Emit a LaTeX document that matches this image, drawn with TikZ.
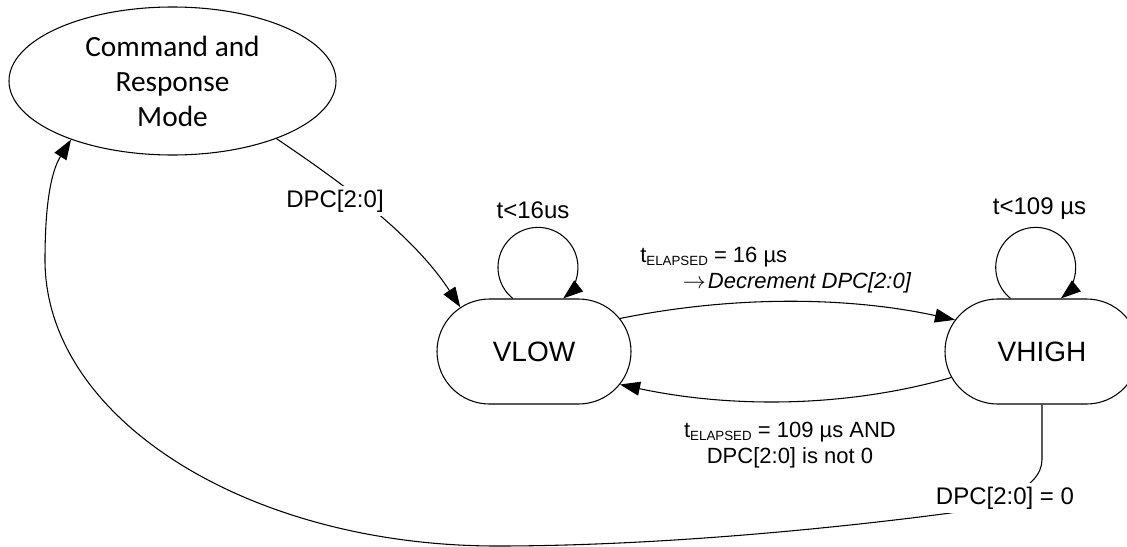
\documentclass[tikz,border=0pt]{standalone}
\usepackage{fontspec}
\setmainfont{Liberation Sans}
\newfontfamily\calibrifont{Carlito}
\usepackage{tikz}
\usetikzlibrary{arrows.meta,shapes.geometric,shapes.misc}
\tikzset{
    modeellipse/.style={draw=black, line width=0.8pt, ellipse, minimum width=245.25pt,
        minimum height=111pt, inner sep=0pt, align=center,
        font=\calibrifont\fontsize{22}{26.25}\selectfont},
    statebox/.style={draw=black, line width=0.8pt, rounded rectangle, minimum width=145.5pt,
        minimum height=78.75pt, inner sep=0pt, font=\fontsize{21}{25}\selectfont},
    transition/.style={draw=black, line width=0.8pt, -{Triangle[length=15pt,width=10.5pt]}},
    condlabel/.style={fill=white, inner sep=2.5pt, font=\fontsize{18}{21}\selectfont},
    actionlabel/.style={inner sep=0pt, font=\fontsize{16.5}{19.5}\selectfont},
}
\newcommand{\telapsed}{t\raisebox{-2pt}{\fontsize{10}{12}\selectfont ELAPSED}}

\begin{document}
\begin{tikzpicture}[x=0.75pt, y=-0.75pt]
    \useasboundingbox (0,0) rectangle (1127,546);
    \node[modeellipse] (cmd) at (172.5,81) {Command and\\Response\\Mode};
    \node[statebox] (vlow) at (534,351.5) {VLOW};
    \node[statebox] (vhigh) at (1042,351.5) {VHIGH};
    % transitions
    \draw[transition] (cmd.331) .. controls (330,175) and (410,230) .. (vlow.149);
    \draw[transition] (vlow.21) .. controls (730,296) and (845,296) .. (vhigh.160);
    \draw[transition] (vhigh.196) .. controls (845,408) and (730,408) .. (vlow.339);
    \draw[transition] (vhigh.south) -- ++(0,55) .. controls (1042,490) and (990,508) .. (943,514)
        .. controls (820,530) and (650,546) .. (497,546)
        .. controls (247,546) and (45,418) .. (45,260)
        .. controls (45,200) and (52,170) .. (cmd.210);
    % self loops
    \draw[transition] ([xshift=-15.9pt]vlow.north) arc[start angle=231, end angle=-51, radius=30pt];
    \draw[transition] ([xshift=-23.6pt]vhigh.north) arc[start angle=231, end angle=-51, radius=30pt];
    % labels
    \node[condlabel] (dpcin) at (335,201) {DPC[2:0]};
    \node[condlabel] (lowloop) at (533,210) {t<16us};
    \node[condlabel] (highloop) at (1039.5,209) {t<109 µs};
    \node[actionlabel, anchor=west, align=left] (uplabel) at (640,270)
        {\telapsed{} = 16 µs\\\hspace*{32pt}$\rightarrow$\kern1.5pt\textit{Decrement DPC[2:0]}};
    \node[actionlabel, align=center] (downlabel) at (790,445)
        {\telapsed{} = 109 µs AND\\DPC[2:0] is not 0};
    \node[condlabel] (zerolabel) at (1005,498) {DPC[2:0] = 0};
\end{tikzpicture}
\end{document}
